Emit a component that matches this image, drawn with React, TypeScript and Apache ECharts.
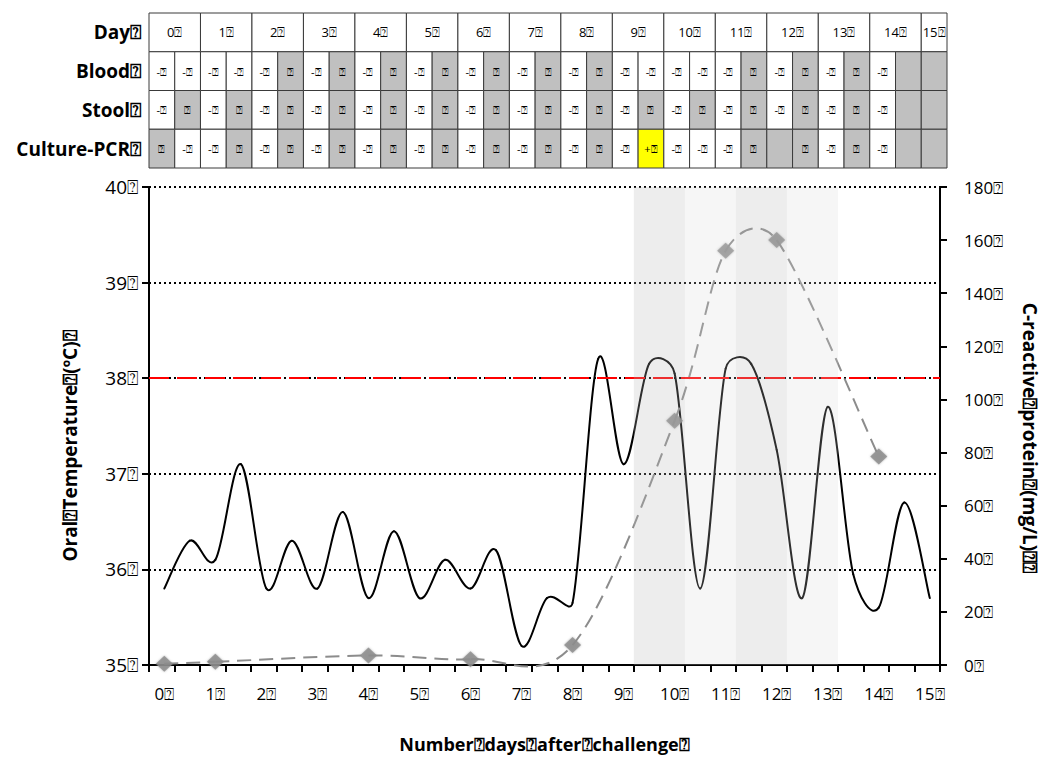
import React, { useEffect, useRef } from 'react';
import * as echarts from 'echarts';

const Q = '\u2370';
const FONT = '"Open Sans", "DejaVu Sans", sans-serif';

// ---- table data ----
const tableRows = ['Day', 'Blood', 'Stool', 'Culture-PCR'];
const dayValues = [0, 1, 2, 3, 4, 5, 6, 7, 8, 9, 10, 11, 12, 13, 14, 15];
// half-day cells: '-' negative (white), 'g' grey with mark, 'G' grey empty, 'y' positive (yellow)
const bloodCells = ['-', '-', '-', '-', '-', 'g', '-', 'g', '-', 'g', '-', 'g', '-', 'g', '-', 'g', '-', 'g', '-', '-', '-', '-', '-', 'g', '-', 'g', '-', 'g', '-', 'G', 'G'];
const stoolCells = ['-', 'g', '-', 'g', '-', 'g', '-', 'g', '-', 'g', '-', 'g', '-', 'g', '-', 'g', '-', 'g', '-', 'g', '-', 'g', '-', 'g', '-', 'g', '-', 'g', '-', 'G', 'G'];
const cultureCells = ['g', '-', '-', 'g', '-', 'g', '-', 'g', '-', 'g', '-', 'g', '-', 'g', '-', 'g', '-', 'g', '-', 'y', '-', '-', '-', 'g', 'G', 'g', '-', 'g', '-', 'G', 'G'];

// ---- chart data ----
const tempDays = [0, 0.5, 1, 1.5, 2, 2.5, 3, 3.5, 4, 4.5, 5, 5.5, 6, 6.5, 7, 7.5, 8, 8.5, 9, 9.5, 10, 10.5, 11, 11.5, 12, 12.5, 13, 13.5, 14, 14.5, 15];
const tempValues = [35.8, 36.3, 36.1, 37.1, 35.8, 36.3, 35.8, 36.6, 35.7, 36.4, 35.7, 36.1, 35.8, 36.2, 35.2, 35.7, 35.65, 38.2, 37.1, 38.15, 38.05, 35.8, 38.1, 38.15, 37.25, 35.7, 37.7, 35.95, 35.6, 36.7, 35.7];
const crpDays = [0, 1, 4, 6, 8, 10, 11, 12, 14];
const crpValues = [0.5, 1.2, 3.6, 2.2, 7.5, 92, 156, 160, 78.5];
const feverThreshold = 38;
// shaded periods, as [first half-day column, last half-day column, shade]
const shadedSpans = [[19, 21, 0], [21, 23, 1], [23, 25, 0], [25, 27, 1]];

const X_START = -0.3; // axis starts 0.3 day before day 0
const HALF = 0.5;
const colX = (k: number) => X_START + HALF * k;

const cellFill: Record<string, string> = { '-': '#ffffff', g: '#c0c0c0', G: '#c0c0c0', y: '#ffff00' };
const cellText: Record<string, string> = { '-': '-' + Q, g: Q, G: '', y: '+' + Q };
const shadeFill = ['rgba(185,185,185,0.25)', 'rgba(215,215,215,0.22)'];

type Cell = { value: number[]; text: string; fill: string; size: number };

function buildTable(): Cell[] {
  const items: Cell[] = [];
  dayValues.forEach((d) => {
    const k0 = 2 * d;
    const k1 = Math.min(2 * d + 2, bloodCells.length);
    items.push({ value: [colX(k0), colX(k1), 0], text: `${d}${Q}`, fill: '#ffffff', size: 13 });
  });
  [bloodCells, stoolCells, cultureCells].forEach((row, r) => {
    row.forEach((c, k) => {
      items.push({ value: [colX(k), colX(k + 1), r + 1], text: cellText[c], fill: cellFill[c], size: 11 });
    });
  });
  return items;
}

// Smooth line (spreadsheet-style Bezier smoothing) drawn segment by segment from the axis scales
function splineSeries(xs: number[], ys: number[], yAxisIndex: number, style: any, z: number) {
  return {
    type: 'custom',
    xAxisIndex: 0,
    yAxisIndex,
    z,
    clip: false,
    silent: true,
    encode: { x: 0, y: 1 },
    data: xs.map((x, i) => [x, ys[i]]),
    renderItem: (params: any, api: any) => {
      const n = xs.length;
      const i = params.dataIndex;
      if (i >= n - 1) return { type: 'group', children: [] };
      const p = (j: number) => {
        const k = Math.max(0, Math.min(n - 1, j));
        return api.coord([xs[k], ys[k]]);
      };
      const p0 = p(i - 1);
      const p1 = p(i);
      const p2 = p(i + 1);
      const p3 = p(i + 2);
      const seg = Math.hypot(p2[0] - p1[0], p2[1] - p1[1]);
      const arm = (a: number[], b: number[]) => {
        let vx = (b[0] - a[0]) / 6;
        let vy = (b[1] - a[1]) / 6;
        const len = Math.hypot(vx, vy);
        const cap = seg / 2;
        if (len > cap && len > 0) {
          vx *= cap / len;
          vy *= cap / len;
        }
        return [vx, vy];
      };
      const a1 = arm(p0, p2);
      const a2 = arm(p1, p3);
      return {
        type: 'bezierCurve',
        shape: {
          x1: p1[0],
          y1: p1[1],
          x2: p2[0],
          y2: p2[1],
          cpx1: p1[0] + a1[0],
          cpy1: p1[1] + a1[1],
          cpx2: p2[0] - a2[0],
          cpy2: p2[1] - a2[1],
        },
        style: { fill: 'none', ...style },
      };
    },
  };
}

export default function App() {
  const ref = useRef<HTMLDivElement>(null);
  useEffect(() => {
    if (!ref.current) return;
    const chart = echarts.init(ref.current, undefined, { renderer: 'svg' });
    const tableItems = buildTable();
    const axisText = { color: '#000', fontFamily: FONT };
    const option: any = {
      animation: false,
      backgroundColor: '#ffffff',
      textStyle: { fontFamily: FONT },
      grid: [
        { left: 149, right: 104, top: 187, bottom: 93 },
        { left: 149, right: 100, top: 13, height: 155 },
      ],
      xAxis: [
        {
          type: 'value',
          gridIndex: 0,
          min: X_START,
          max: colX(31),
          interval: HALF,
          axisLine: { show: true, onZero: false, lineStyle: { color: '#000', width: 2 } },
          axisTick: { show: true, length: 7, lineStyle: { color: '#000', width: 2 } },
          axisLabel: {
            ...axisText,
            customValues: dayValues,
            fontSize: 17,
            margin: 20,
            formatter: (v: number) => `${v}${Q}`,
          },
          splitLine: { show: false },
          name: `Number${Q}days${Q}after${Q}challenge${Q}`,
          nameLocation: 'middle',
          nameGap: 70,
          nameMoveOverlap: false,
          nameTextStyle: { ...axisText, fontSize: 18, fontWeight: 'bold' },
        },
        {
          type: 'value',
          gridIndex: 1,
          min: X_START,
          max: colX(31),
          show: false,
        },
      ],
      yAxis: [
        {
          type: 'value',
          gridIndex: 0,
          min: 35,
          max: 40,
          interval: 1,
          position: 'left',
          axisLine: { show: true, onZero: false, lineStyle: { color: '#000', width: 2 } },
          axisTick: { show: true, length: 7, lineStyle: { color: '#000', width: 2 } },
          axisLabel: { ...axisText, fontSize: 19, margin: 11, formatter: (v: number) => `${v}${Q}` },
          splitLine: { show: true, lineStyle: { color: '#000', width: 2, type: [2, 3] } },
          name: `Oral${Q}Temperature${Q}(ºC)${Q}`,
          nameLocation: 'middle',
          nameGap: 70,
          nameRotate: 90,
          nameMoveOverlap: false,
          nameTextStyle: { ...axisText, fontSize: 19, fontWeight: 'bold', padding: [0, 40, 0, 0] },
        },
        {
          type: 'value',
          gridIndex: 0,
          min: 0,
          max: 180,
          interval: 20,
          position: 'right',
          axisLine: { show: true, onZero: false, lineStyle: { color: '#000', width: 2 } },
          axisTick: { show: true, length: 7, lineStyle: { color: '#000', width: 2 } },
          axisLabel: { ...axisText, fontSize: 17, margin: 24, formatter: (v: number) => `${v}${Q}` },
          splitLine: { show: false },
          name: `C-reactive${Q}protein${Q}(mg/L)${Q}${Q}`,
          nameLocation: 'middle',
          nameGap: 80,
          nameRotate: -90,
          nameMoveOverlap: false,
          nameTextStyle: { ...axisText, fontSize: 19, fontWeight: 'bold', padding: [0, 0, 0, 24] },
        },
        {
          type: 'category',
          gridIndex: 1,
          inverse: true,
          data: tableRows.map((r) => `${r}${Q}`),
          axisLine: { show: false },
          axisTick: { show: false },
          splitLine: { show: false },
          axisLabel: { ...axisText, fontSize: 19, fontWeight: 'bold', margin: 8 },
        },
      ],
      series: [
        {
          type: 'custom',
          xAxisIndex: 1,
          yAxisIndex: 2,
          clip: false,
          silent: true,
          encode: { x: [0, 1], y: 2 },
          data: tableItems.map((c) => c.value),
          renderItem: (params: any, api: any) => {
            const item = tableItems[params.dataIndex];
            const row = api.value(2);
            const p0 = api.coord([api.value(0), row]);
            const p1 = api.coord([api.value(1), row]);
            const h = api.size([0, 1])[1];
            const x = p0[0];
            const w = p1[0] - p0[0];
            const y = p0[1] - h / 2;
            return {
              type: 'group',
              children: [
                {
                  type: 'rect',
                  shape: { x, y, width: w, height: h },
                  style: { fill: item.fill, stroke: '#3a3a3a', lineWidth: 1 },
                },
                {
                  type: 'text',
                  style: {
                    text: item.text,
                    x: x + w / 2,
                    y: y + h / 2,
                    align: 'center',
                    verticalAlign: 'middle',
                    fontSize: item.size,
                    fontFamily: FONT,
                    fill: '#000',
                  },
                },
              ],
            };
          },
        },
        {
          type: 'line',
          name: 'Fever threshold',
          xAxisIndex: 0,
          yAxisIndex: 0,
          data: [],
          z: 2,
          markLine: {
            silent: true,
            symbol: ['none', 'none'],
            label: { show: false },
            lineStyle: { color: '#ff0000', width: 2, type: [20, 8] },
            data: [{ yAxis: feverThreshold }],
          },
        },
        splineSeries(tempDays, tempValues, 0, { stroke: '#000', lineWidth: 2, lineCap: 'round' }, 3),
        splineSeries(crpDays, crpValues, 1, { stroke: '#8c8c8c', lineWidth: 2, lineDash: [14, 8] }, 4),
        {
          type: 'scatter',
          name: 'CRP',
          xAxisIndex: 0,
          yAxisIndex: 1,
          data: crpDays.map((d, i) => [d, crpValues[i]]),
          symbol: 'diamond',
          symbolSize: [17, 16],
          z: 5,
          itemStyle: { color: '#8c8c8c', shadowBlur: 2, shadowColor: 'rgba(140,140,140,0.8)' },
        },
        {
          type: 'custom',
          xAxisIndex: 0,
          yAxisIndex: 0,
          z: 10,
          silent: true,
          encode: { x: [0, 1] },
          data: shadedSpans.map(([a, b, s]) => [colX(a), colX(b), s]),
          renderItem: (params: any, api: any) => {
            const p0 = api.coord([api.value(0), 40]);
            const p1 = api.coord([api.value(1), 35]);
            return {
              type: 'rect',
              shape: { x: p0[0], y: p0[1], width: p1[0] - p0[0], height: p1[1] - p0[1] },
              style: { fill: shadeFill[api.value(2)] },
            };
          },
        },
      ],
    };
    chart.setOption(option);
    return () => chart.dispose();
  }, []);
  return (
    <div
      ref={ref}
      style={{ position: 'absolute', left: 0, top: 0, width: 1047, height: 758, background: '#fff' }}
    />
  );
}
